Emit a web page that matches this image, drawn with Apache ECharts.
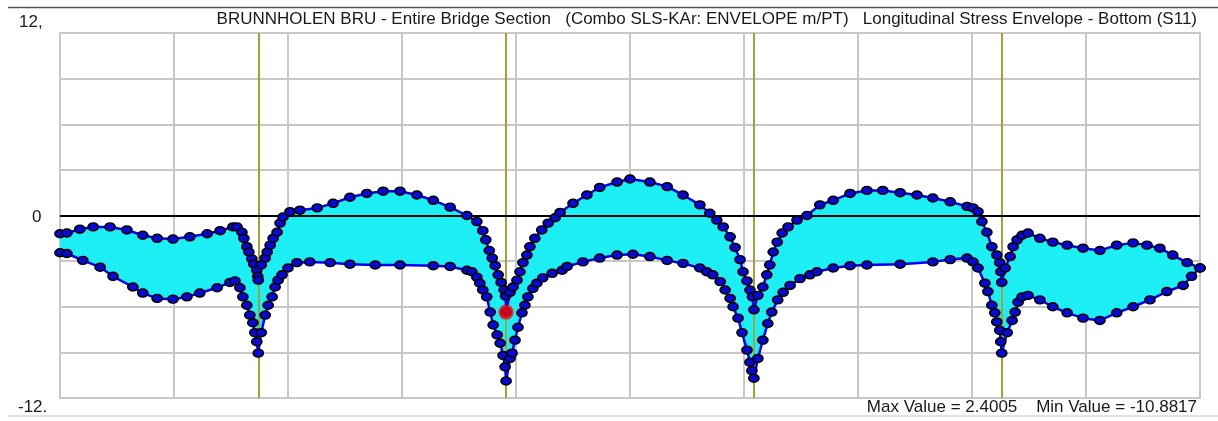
<!DOCTYPE html>
<html>
<head>
<meta charset="utf-8">
<script src="https://cdn.jsdelivr.net/npm/echarts@6/dist/echarts.min.js"></script>
<style>
html,body{margin:0;padding:0;background:#fff;}
#chart{width:1218px;height:421px;}
</style>
</head>
<body>
<div id="chart"></div>
<script>
// ---- DATA (stations in m along bridge, stresses) ----
const titleText = 'BRUNNHOLEN BRU - Entire Bridge Section   (Combo SLS-KAr: ENVELOPE m/PT)   Longitudinal Stress Envelope - Bottom (S11)';
const footerText = 'Max Value = 2.4005    Min Value = -10.8817';
const yTickValues = [12, 0, -12];
const yTickLabels = ['12,', '0', '-12.'];
const piers = [40, 90, 140, 190];
const currentPoint = [90, -6.35];

const upperStation = [0,1.4,4.0,6.7,10.1,13.5,16.7,19.6,22.8,26.2,29.7,32.3,34.9,35.7,36.7,37.1,37.7,38.1,38.7,39.1,39.7,39.9,40.0,
  40.6,41.4,41.8,42.4,43.0,43.8,44.4,45.0,46.4,48.4,51.9,55.1,58.5,61.9,65.2,68.6,72.0,75.3,78.7,82.1,84.1,85.3,85.9,86.6,87.2,87.8,88.4,89.0,89.6,89.9,90.0,
  90.8,91.4,92.2,92.8,93.4,94.2,94.8,95.8,97.2,98.5,99.9,100.9,103.5,106.3,108.9,112.4,115.0,119.0,122.5,125.7,129.1,131.1,132.5,133.8,135.2,136.2,137.2,137.8,138.6,139.2,139.7,140.0,
  140.8,141.8,142.6,143.2,143.9,144.7,145.7,146.9,148.7,150.7,153.3,156.0,159.4,162.8,166.0,169.5,172.9,176.1,179.6,183.0,184.2,185.2,186.0,187.0,188.0,189.0,189.6,189.8,190.0,
  190.7,191.7,192.3,193.1,194.1,195.3,197.7,200.3,203.2,206.4,209.8,213.2,216.5,219.3,221.9,224.5,227.4,230];
const upperValue = [-1.2,-1.15,-0.9,-0.75,-0.75,-0.95,-1.3,-1.5,-1.55,-1.4,-1.2,-1.0,-0.75,-0.75,-1.1,-1.5,-2.05,-2.4,-2.85,-3.2,-3.6,-4.0,-4.25,
  -3.25,-2.8,-2.4,-1.95,-1.5,-1.1,-0.5,-0.1,0.25,0.35,0.5,0.8,1.2,1.45,1.6,1.6,1.35,1.0,0.55,0.0,-0.4,-1.0,-1.6,-2.3,-2.8,-3.3,-3.9,-4.4,-4.9,-5.3,-6.35,
  -5.05,-4.7,-4.25,-3.7,-3.1,-2.6,-2.05,-1.5,-0.95,-0.5,-0.15,0.2,0.8,1.35,1.85,2.2,2.4,2.2,1.9,1.35,0.7,0.15,-0.3,-0.75,-1.4,-2.1,-2.9,-3.7,-4.3,-4.9,-5.35,-6.2,
  -5.25,-4.7,-3.9,-3.25,-2.4,-1.75,-1.15,-0.75,-0.3,0.0,0.7,1.0,1.45,1.65,1.65,1.5,1.35,1.15,0.9,0.6,0.5,0.25,-0.4,-1.1,-2.05,-2.6,-3.1,-3.7,-4.4,
  -3.45,-2.7,-2.05,-1.6,-1.3,-1.15,-1.5,-1.75,-1.95,-2.15,-2.3,-1.95,-1.8,-1.95,-2.15,-2.6,-3.1,-3.45];

const lowerStation = [0,1.4,4.6,8.1,10.7,14.7,16.7,19.6,22.8,25.6,28.2,31.7,34.3,35.3,36.3,36.9,37.7,38.3,38.9,39.3,39.7,40.0,
  40.6,41.4,42.0,42.8,43.4,44.0,44.8,46.0,47.8,50.4,54.5,58.5,63.6,68.6,75.3,78.7,82.1,83.1,84.1,84.7,85.3,86.1,86.8,87.4,88.2,88.8,89.4,89.8,90.0,
  90.8,91.2,91.8,92.4,93.2,93.8,94.4,95.4,96.2,97.4,99.3,101.3,102.3,105.5,108.9,112.4,115.6,119.0,122.5,125.7,129.1,130.5,131.7,133.2,134.2,135.2,135.8,136.8,137.6,138.6,139.2,139.6,140.0,
  140.8,141.8,142.8,143.6,144.8,145.9,147.3,149.3,151.3,152.7,156.0,159.4,162.8,169.5,176.1,179.6,183.0,184.2,185.2,186.6,187.2,188.0,188.6,189.0,189.6,189.8,190.0,
  191.1,192.1,192.7,193.3,194.1,195.3,197.7,200.3,203.2,206.4,209.8,213.2,216.5,219.9,223.3,226.6,228.3,230];
const lowerValue = [-2.45,-2.5,-2.95,-3.4,-4.0,-4.7,-5.1,-5.45,-5.5,-5.35,-5.1,-4.75,-4.4,-4.3,-4.75,-5.35,-5.9,-6.55,-7.05,-7.7,-8.3,-9.05,
  -7.7,-6.55,-5.9,-5.35,-4.7,-4.25,-3.9,-3.45,-3.1,-3.05,-3.1,-3.2,-3.25,-3.25,-3.3,-3.35,-3.6,-3.7,-4.05,-4.45,-4.9,-5.35,-6.35,-7.2,-7.85,-8.4,-9.2,-9.95,-10.88,
  -9.4,-9.05,-8.2,-7.35,-6.4,-5.9,-5.35,-4.8,-4.45,-4.1,-3.8,-3.6,-3.35,-3.05,-2.8,-2.6,-2.55,-2.7,-2.95,-3.15,-3.45,-3.7,-3.9,-4.35,-4.9,-5.45,-6.0,-6.75,-7.7,-8.85,-9.65,-10.2,-10.7,
  -9.4,-8.2,-7.1,-6.35,-5.55,-5.05,-4.6,-4.15,-3.9,-3.7,-3.45,-3.3,-3.25,-3.2,-3.05,-2.9,-2.8,-3.05,-3.45,-4.45,-5.0,-5.9,-6.4,-7.0,-7.55,-8.3,-9.05,
  -7.7,-6.9,-6.35,-5.7,-5.35,-5.25,-5.55,-6.0,-6.4,-6.75,-6.9,-6.4,-6.0,-5.55,-5.0,-4.6,-4.0,-3.45];

// ---- build ----
const upperData = upperStation.map((s, i) => [s, upperValue[i]]);
const lowerData = lowerStation.map((s, i) => [s, lowerValue[i]]);

const pat = document.createElement('canvas');
pat.width = 2; pat.height = 4;
const pctx = pat.getContext('2d');
pctx.fillStyle = '#00ffff'; pctx.fillRect(0, 0, 2, 4);
pctx.fillStyle = '#38dfea'; pctx.fillRect(1, 0, 1, 4);

const FONT = '"Liberation Sans", Arial, sans-serif';
const chart = echarts.init(document.getElementById('chart'), null, {renderer: 'canvas'});

const curveStyle = {
  type: 'line', showSymbol: true, showAllSymbol: true, symbol: 'circle', symbolSize: [10, 8],
  itemStyle: {color: '#0808d8', borderColor: '#000', borderWidth: 1.6},
  lineStyle: {color: '#0000ff', width: 2.5}, z: 5, silent: true, animation: false
};

chart.setOption({
  animation: false,
  grid: {left: 60, right: 18, top: 33, bottom: 23, show: true, borderColor: '#c6c6c6', borderWidth: 2},
  xAxis: {type: 'value', min: 0, max: 230, interval: 23,
    axisLine: {show: false}, axisTick: {show: false}, axisLabel: {show: false},
    splitLine: {show: true, lineStyle: {color: '#c8c8c8', width: 2}}},
  yAxis: {type: 'value', min: -12, max: 12, interval: 3,
    axisLine: {show: false}, axisTick: {show: false}, axisLabel: {show: false},
    splitLine: {show: true, lineStyle: {color: '#c8c8c8', width: 2}}},
  series: [
    {
      type: 'custom', z: 1, silent: true,
      data: [0],
      renderItem: function (params, api) {
        const pts = [];
        upperData.forEach(d => pts.push(api.coord(d)));
        for (let i = lowerData.length - 1; i >= 0; i--) pts.push(api.coord(lowerData[i]));
        return {type: 'polygon', shape: {points: pts},
          style: {fill: {image: pat, repeat: 'repeat'}, stroke: null}};
      }
    },
    {
      type: 'line', data: [], z: 3, silent: true,
      markLine: {silent: true, symbol: 'none', label: {show: false}, animation: false,
        data: [
          ...piers.map(p => ({xAxis: p, lineStyle: {color: '#a6a232', width: 2, type: 'solid'}})),
          {yAxis: 0, lineStyle: {color: '#000', width: 2, type: 'solid'}}
        ]}
    },
    Object.assign({}, curveStyle, {data: upperData}),
    Object.assign({}, curveStyle, {data: lowerData}),
    {type: 'scatter', data: [currentPoint], symbolSize: 15, z: 6, silent: true,
      itemStyle: {color: '#ff0000'}}
  ]
});

// frame lines and texts positioned through the axis scales
const g = [];
g.push({type: 'line', shape: {x1: 8, y1: 7.5, x2: 1218, y2: 7.5}, style: {stroke: '#555', lineWidth: 1.5}});
g.push({type: 'line', shape: {x1: 8, y1: 416, x2: 1218, y2: 416}, style: {stroke: '#e2e2e2', lineWidth: 2}});
const labelOffsets = [[19, -11], [32, 1], [18, 9]];
yTickValues.forEach((v, i) => {
  const py = chart.convertToPixel({gridIndex: 0}, [0, v])[1];
  g.push({type: 'text', left: labelOffsets[i][0], top: py + labelOffsets[i][1] - 8,
    style: {text: yTickLabels[i], font: '17px ' + FONT, fill: '#1a1a1a'}});
});
g.push({type: 'text', right: 21, top: 11, style: {text: titleText, font: '17px ' + FONT, fill: '#1a1a1a'}});
g.push({type: 'text', right: 21, top: 399, style: {text: footerText, font: '17px ' + FONT, fill: '#1a1a1a'}});
chart.setOption({graphic: g});
</script>
</body>
</html>
